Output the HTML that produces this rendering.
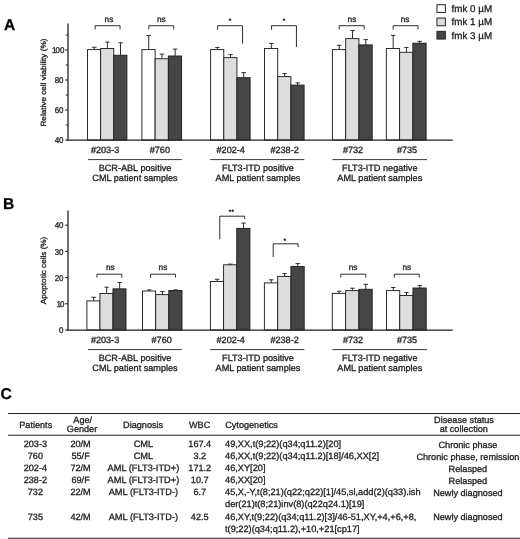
<!DOCTYPE html>
<html><head><meta charset="utf-8"><title>Figure</title>
<style>html,body{margin:0;padding:0;background:#fff}svg{display:block}svg text{font-family:"Liberation Sans",Arial,Helvetica,sans-serif;stroke:#222;stroke-width:0.3px;text-rendering:geometricPrecision}</style>
</head><body>
<svg width="520" height="539" viewBox="0 0 520 539">
<rect width="520" height="539" fill="#fff"/>
<line x1="94.27" y1="49.60" x2="94.27" y2="47.25" stroke="#222222" stroke-width="0.95" stroke-linecap="butt"/>
<line x1="92.07" y1="47.25" x2="96.47" y2="47.25" stroke="#222222" stroke-width="0.95" stroke-linecap="butt"/>
<rect x="87.50" y="49.60" width="13.13" height="90.40" fill="#ffffff" stroke="#222222" stroke-width="0.95"/>
<line x1="107.40" y1="48.50" x2="107.40" y2="42.10" stroke="#222222" stroke-width="0.95" stroke-linecap="butt"/>
<line x1="105.20" y1="42.10" x2="109.60" y2="42.10" stroke="#222222" stroke-width="0.95" stroke-linecap="butt"/>
<rect x="100.63" y="48.50" width="13.13" height="91.50" fill="#dddddd" stroke="#222222" stroke-width="0.95"/>
<line x1="120.53" y1="55.25" x2="120.53" y2="42.75" stroke="#222222" stroke-width="0.95" stroke-linecap="butt"/>
<line x1="118.33" y1="42.75" x2="122.73" y2="42.75" stroke="#222222" stroke-width="0.95" stroke-linecap="butt"/>
<rect x="113.77" y="55.25" width="13.13" height="84.75" fill="#454545" stroke="#222222" stroke-width="0.95"/>
<line x1="148.72" y1="49.60" x2="148.72" y2="35.40" stroke="#222222" stroke-width="0.95" stroke-linecap="butt"/>
<line x1="146.52" y1="35.40" x2="150.92" y2="35.40" stroke="#222222" stroke-width="0.95" stroke-linecap="butt"/>
<rect x="141.90" y="49.60" width="13.23" height="90.40" fill="#ffffff" stroke="#222222" stroke-width="0.95"/>
<line x1="161.95" y1="58.75" x2="161.95" y2="54.10" stroke="#222222" stroke-width="0.95" stroke-linecap="butt"/>
<line x1="159.75" y1="54.10" x2="164.15" y2="54.10" stroke="#222222" stroke-width="0.95" stroke-linecap="butt"/>
<rect x="155.13" y="58.75" width="13.23" height="81.25" fill="#dddddd" stroke="#222222" stroke-width="0.95"/>
<line x1="175.18" y1="56.00" x2="175.18" y2="49.10" stroke="#222222" stroke-width="0.95" stroke-linecap="butt"/>
<line x1="172.98" y1="49.10" x2="177.38" y2="49.10" stroke="#222222" stroke-width="0.95" stroke-linecap="butt"/>
<rect x="168.37" y="56.00" width="13.23" height="84.00" fill="#454545" stroke="#222222" stroke-width="0.95"/>
<line x1="217.38" y1="49.60" x2="217.38" y2="47.40" stroke="#222222" stroke-width="0.95" stroke-linecap="butt"/>
<line x1="215.18" y1="47.40" x2="219.58" y2="47.40" stroke="#222222" stroke-width="0.95" stroke-linecap="butt"/>
<rect x="210.60" y="49.60" width="13.17" height="90.40" fill="#ffffff" stroke="#222222" stroke-width="0.95"/>
<line x1="230.55" y1="57.60" x2="230.55" y2="54.60" stroke="#222222" stroke-width="0.95" stroke-linecap="butt"/>
<line x1="228.35" y1="54.60" x2="232.75" y2="54.60" stroke="#222222" stroke-width="0.95" stroke-linecap="butt"/>
<rect x="223.77" y="57.60" width="13.17" height="82.40" fill="#dddddd" stroke="#222222" stroke-width="0.95"/>
<line x1="243.72" y1="77.70" x2="243.72" y2="72.60" stroke="#222222" stroke-width="0.95" stroke-linecap="butt"/>
<line x1="241.52" y1="72.60" x2="245.92" y2="72.60" stroke="#222222" stroke-width="0.95" stroke-linecap="butt"/>
<rect x="236.93" y="77.70" width="13.17" height="62.30" fill="#454545" stroke="#222222" stroke-width="0.95"/>
<line x1="271.30" y1="48.50" x2="271.30" y2="43.40" stroke="#222222" stroke-width="0.95" stroke-linecap="butt"/>
<line x1="269.10" y1="43.40" x2="273.50" y2="43.40" stroke="#222222" stroke-width="0.95" stroke-linecap="butt"/>
<rect x="264.50" y="48.50" width="13.20" height="91.50" fill="#ffffff" stroke="#222222" stroke-width="0.95"/>
<line x1="284.50" y1="76.60" x2="284.50" y2="73.50" stroke="#222222" stroke-width="0.95" stroke-linecap="butt"/>
<line x1="282.30" y1="73.50" x2="286.70" y2="73.50" stroke="#222222" stroke-width="0.95" stroke-linecap="butt"/>
<rect x="277.70" y="76.60" width="13.20" height="63.40" fill="#dddddd" stroke="#222222" stroke-width="0.95"/>
<line x1="297.70" y1="85.10" x2="297.70" y2="82.80" stroke="#222222" stroke-width="0.95" stroke-linecap="butt"/>
<line x1="295.50" y1="82.80" x2="299.90" y2="82.80" stroke="#222222" stroke-width="0.95" stroke-linecap="butt"/>
<rect x="290.90" y="85.10" width="13.20" height="54.90" fill="#454545" stroke="#222222" stroke-width="0.95"/>
<line x1="339.23" y1="49.60" x2="339.23" y2="45.30" stroke="#222222" stroke-width="0.95" stroke-linecap="butt"/>
<line x1="337.03" y1="45.30" x2="341.43" y2="45.30" stroke="#222222" stroke-width="0.95" stroke-linecap="butt"/>
<rect x="332.40" y="49.60" width="13.27" height="90.40" fill="#ffffff" stroke="#222222" stroke-width="0.95"/>
<line x1="352.50" y1="38.60" x2="352.50" y2="30.50" stroke="#222222" stroke-width="0.95" stroke-linecap="butt"/>
<line x1="350.30" y1="30.50" x2="354.70" y2="30.50" stroke="#222222" stroke-width="0.95" stroke-linecap="butt"/>
<rect x="345.67" y="38.60" width="13.27" height="101.40" fill="#dddddd" stroke="#222222" stroke-width="0.95"/>
<line x1="365.77" y1="44.90" x2="365.77" y2="39.60" stroke="#222222" stroke-width="0.95" stroke-linecap="butt"/>
<line x1="363.57" y1="39.60" x2="367.97" y2="39.60" stroke="#222222" stroke-width="0.95" stroke-linecap="butt"/>
<rect x="358.93" y="44.90" width="13.27" height="95.10" fill="#454545" stroke="#222222" stroke-width="0.95"/>
<line x1="393.18" y1="48.50" x2="393.18" y2="35.40" stroke="#222222" stroke-width="0.95" stroke-linecap="butt"/>
<line x1="390.98" y1="35.40" x2="395.38" y2="35.40" stroke="#222222" stroke-width="0.95" stroke-linecap="butt"/>
<rect x="386.35" y="48.50" width="13.25" height="91.50" fill="#ffffff" stroke="#222222" stroke-width="0.95"/>
<line x1="406.43" y1="52.30" x2="406.43" y2="47.40" stroke="#222222" stroke-width="0.95" stroke-linecap="butt"/>
<line x1="404.23" y1="47.40" x2="408.62" y2="47.40" stroke="#222222" stroke-width="0.95" stroke-linecap="butt"/>
<rect x="399.60" y="52.30" width="13.25" height="87.70" fill="#dddddd" stroke="#222222" stroke-width="0.95"/>
<line x1="419.68" y1="43.20" x2="419.68" y2="41.30" stroke="#222222" stroke-width="0.95" stroke-linecap="butt"/>
<line x1="417.48" y1="41.30" x2="421.88" y2="41.30" stroke="#222222" stroke-width="0.95" stroke-linecap="butt"/>
<rect x="412.85" y="43.20" width="13.25" height="96.80" fill="#454545" stroke="#222222" stroke-width="0.95"/>
<line x1="68.00" y1="23.50" x2="68.00" y2="140.65" stroke="#222222" stroke-width="1.3" stroke-linecap="butt"/>
<line x1="67.35" y1="140.20" x2="452.70" y2="140.20" stroke="#222222" stroke-width="1.2" stroke-linecap="butt"/>
<line x1="65.10" y1="140.00" x2="68.00" y2="140.00" stroke="#222222" stroke-width="1.0" stroke-linecap="butt"/>
<text x="0" y="0" font-size="8.4" text-anchor="end" fill="#222222" transform="translate(63.5 143.15) scale(0.95 1)">40</text>
<line x1="65.10" y1="110.00" x2="68.00" y2="110.00" stroke="#222222" stroke-width="1.0" stroke-linecap="butt"/>
<text x="0" y="0" font-size="8.4" text-anchor="end" fill="#222222" transform="translate(63.5 113.15) scale(0.95 1)">60</text>
<line x1="65.10" y1="80.00" x2="68.00" y2="80.00" stroke="#222222" stroke-width="1.0" stroke-linecap="butt"/>
<text x="0" y="0" font-size="8.4" text-anchor="end" fill="#222222" transform="translate(63.5 83.15) scale(0.95 1)">80</text>
<line x1="65.10" y1="50.00" x2="68.00" y2="50.00" stroke="#222222" stroke-width="1.0" stroke-linecap="butt"/>
<text x="0" y="0" font-size="8.4" text-anchor="end" fill="#222222" transform="translate(63.5 53.15) scale(0.95 1)"><tspan dx="1.0">1</tspan><tspan dx="-1.0">0</tspan>0</text>
<line x1="65.90" y1="125.00" x2="68.00" y2="125.00" stroke="#222222" stroke-width="1.0" stroke-linecap="butt"/>
<line x1="65.90" y1="95.00" x2="68.00" y2="95.00" stroke="#222222" stroke-width="1.0" stroke-linecap="butt"/>
<line x1="65.90" y1="65.00" x2="68.00" y2="65.00" stroke="#222222" stroke-width="1.0" stroke-linecap="butt"/>
<line x1="65.90" y1="35.00" x2="68.00" y2="35.00" stroke="#222222" stroke-width="1.0" stroke-linecap="butt"/>
<text x="0" y="0" font-size="7.5" text-anchor="middle" fill="#222222" transform="translate(45.7 82.6) rotate(-90) scale(1.087 1)">Relative cell viability (%)</text>
<polyline points="95.15,29.40 95.15,25.70 120.05,25.70 120.05,29.40" fill="none" stroke="#222222" stroke-width="0.95" stroke-linejoin="round"/>
<text x="108.95" y="21.60" font-size="8.3" text-anchor="middle" font-weight="normal" fill="#222222" >ns</text>
<polyline points="148.80,29.40 148.80,25.70 173.70,25.70 173.70,29.40" fill="none" stroke="#222222" stroke-width="0.95" stroke-linejoin="round"/>
<text x="161.30" y="21.60" font-size="8.3" text-anchor="middle" font-weight="normal" fill="#222222" >ns</text>
<polyline points="217.65,29.80 217.65,25.70 242.55,25.70 242.55,43.60" fill="none" stroke="#222222" stroke-width="0.95" stroke-linejoin="round"/>
<text x="230.00" y="22.80" font-size="6.6" text-anchor="middle" font-weight="normal" fill="#222222" >*</text>
<polyline points="271.55,29.80 271.55,25.70 296.45,25.70 296.45,47.00" fill="none" stroke="#222222" stroke-width="0.95" stroke-linejoin="round"/>
<text x="284.00" y="22.80" font-size="6.6" text-anchor="middle" font-weight="normal" fill="#222222" >*</text>
<polyline points="339.25,29.40 339.25,25.70 364.15,25.70 364.15,29.40" fill="none" stroke="#222222" stroke-width="0.95" stroke-linejoin="round"/>
<text x="351.95" y="21.60" font-size="8.3" text-anchor="middle" font-weight="normal" fill="#222222" >ns</text>
<polyline points="393.15,29.40 393.15,25.70 418.05,25.70 418.05,29.40" fill="none" stroke="#222222" stroke-width="0.95" stroke-linejoin="round"/>
<text x="405.05" y="21.60" font-size="8.3" text-anchor="middle" font-weight="normal" fill="#222222" >ns</text>
<line x1="93.62" y1="300.90" x2="93.62" y2="297.30" stroke="#222222" stroke-width="0.95" stroke-linecap="butt"/>
<line x1="91.42" y1="297.30" x2="95.82" y2="297.30" stroke="#222222" stroke-width="0.95" stroke-linecap="butt"/>
<rect x="86.90" y="300.90" width="13.03" height="29.10" fill="#ffffff" stroke="#222222" stroke-width="0.95"/>
<line x1="106.65" y1="293.50" x2="106.65" y2="287.20" stroke="#222222" stroke-width="0.95" stroke-linecap="butt"/>
<line x1="104.45" y1="287.20" x2="108.85" y2="287.20" stroke="#222222" stroke-width="0.95" stroke-linecap="butt"/>
<rect x="99.93" y="293.50" width="13.03" height="36.50" fill="#dddddd" stroke="#222222" stroke-width="0.95"/>
<line x1="119.68" y1="288.85" x2="119.68" y2="282.50" stroke="#222222" stroke-width="0.95" stroke-linecap="butt"/>
<line x1="117.48" y1="282.50" x2="121.88" y2="282.50" stroke="#222222" stroke-width="0.95" stroke-linecap="butt"/>
<rect x="112.97" y="288.85" width="13.03" height="41.15" fill="#454545" stroke="#222222" stroke-width="0.95"/>
<line x1="149.28" y1="291.00" x2="149.28" y2="289.90" stroke="#222222" stroke-width="0.95" stroke-linecap="butt"/>
<line x1="147.08" y1="289.90" x2="151.48" y2="289.90" stroke="#222222" stroke-width="0.95" stroke-linecap="butt"/>
<rect x="142.50" y="291.00" width="13.17" height="39.00" fill="#ffffff" stroke="#222222" stroke-width="0.95"/>
<line x1="162.45" y1="294.60" x2="162.45" y2="291.60" stroke="#222222" stroke-width="0.95" stroke-linecap="butt"/>
<line x1="160.25" y1="291.60" x2="164.65" y2="291.60" stroke="#222222" stroke-width="0.95" stroke-linecap="butt"/>
<rect x="155.67" y="294.60" width="13.17" height="35.40" fill="#dddddd" stroke="#222222" stroke-width="0.95"/>
<line x1="175.62" y1="290.50" x2="175.62" y2="289.90" stroke="#222222" stroke-width="0.95" stroke-linecap="butt"/>
<line x1="173.42" y1="289.90" x2="177.82" y2="289.90" stroke="#222222" stroke-width="0.95" stroke-linecap="butt"/>
<rect x="168.83" y="290.50" width="13.17" height="39.50" fill="#454545" stroke="#222222" stroke-width="0.95"/>
<line x1="217.18" y1="281.50" x2="217.18" y2="279.30" stroke="#222222" stroke-width="0.95" stroke-linecap="butt"/>
<line x1="214.98" y1="279.30" x2="219.38" y2="279.30" stroke="#222222" stroke-width="0.95" stroke-linecap="butt"/>
<rect x="210.40" y="281.50" width="13.17" height="48.50" fill="#ffffff" stroke="#222222" stroke-width="0.95"/>
<line x1="230.35" y1="264.80" x2="230.35" y2="264.10" stroke="#222222" stroke-width="0.95" stroke-linecap="butt"/>
<line x1="228.15" y1="264.10" x2="232.55" y2="264.10" stroke="#222222" stroke-width="0.95" stroke-linecap="butt"/>
<rect x="223.57" y="264.80" width="13.17" height="65.20" fill="#dddddd" stroke="#222222" stroke-width="0.95"/>
<line x1="243.52" y1="228.40" x2="243.52" y2="223.10" stroke="#222222" stroke-width="0.95" stroke-linecap="butt"/>
<line x1="241.32" y1="223.10" x2="245.72" y2="223.10" stroke="#222222" stroke-width="0.95" stroke-linecap="butt"/>
<rect x="236.73" y="228.40" width="13.17" height="101.60" fill="#454545" stroke="#222222" stroke-width="0.95"/>
<line x1="271.23" y1="282.90" x2="271.23" y2="279.80" stroke="#222222" stroke-width="0.95" stroke-linecap="butt"/>
<line x1="269.03" y1="279.80" x2="273.43" y2="279.80" stroke="#222222" stroke-width="0.95" stroke-linecap="butt"/>
<rect x="264.40" y="282.90" width="13.27" height="47.10" fill="#ffffff" stroke="#222222" stroke-width="0.95"/>
<line x1="284.50" y1="276.40" x2="284.50" y2="273.50" stroke="#222222" stroke-width="0.95" stroke-linecap="butt"/>
<line x1="282.30" y1="273.50" x2="286.70" y2="273.50" stroke="#222222" stroke-width="0.95" stroke-linecap="butt"/>
<rect x="277.67" y="276.40" width="13.27" height="53.60" fill="#dddddd" stroke="#222222" stroke-width="0.95"/>
<line x1="297.77" y1="266.50" x2="297.77" y2="263.60" stroke="#222222" stroke-width="0.95" stroke-linecap="butt"/>
<line x1="295.57" y1="263.60" x2="299.97" y2="263.60" stroke="#222222" stroke-width="0.95" stroke-linecap="butt"/>
<rect x="290.93" y="266.50" width="13.27" height="63.50" fill="#454545" stroke="#222222" stroke-width="0.95"/>
<line x1="339.15" y1="293.40" x2="339.15" y2="291.30" stroke="#222222" stroke-width="0.95" stroke-linecap="butt"/>
<line x1="336.95" y1="291.30" x2="341.35" y2="291.30" stroke="#222222" stroke-width="0.95" stroke-linecap="butt"/>
<rect x="332.30" y="293.40" width="13.30" height="36.60" fill="#ffffff" stroke="#222222" stroke-width="0.95"/>
<line x1="352.45" y1="290.60" x2="352.45" y2="288.20" stroke="#222222" stroke-width="0.95" stroke-linecap="butt"/>
<line x1="350.25" y1="288.20" x2="354.65" y2="288.20" stroke="#222222" stroke-width="0.95" stroke-linecap="butt"/>
<rect x="345.60" y="290.60" width="13.30" height="39.40" fill="#dddddd" stroke="#222222" stroke-width="0.95"/>
<line x1="365.75" y1="289.30" x2="365.75" y2="284.30" stroke="#222222" stroke-width="0.95" stroke-linecap="butt"/>
<line x1="363.55" y1="284.30" x2="367.95" y2="284.30" stroke="#222222" stroke-width="0.95" stroke-linecap="butt"/>
<rect x="358.90" y="289.30" width="13.30" height="40.70" fill="#454545" stroke="#222222" stroke-width="0.95"/>
<line x1="393.32" y1="290.60" x2="393.32" y2="287.50" stroke="#222222" stroke-width="0.95" stroke-linecap="butt"/>
<line x1="391.12" y1="287.50" x2="395.52" y2="287.50" stroke="#222222" stroke-width="0.95" stroke-linecap="butt"/>
<rect x="386.50" y="290.60" width="13.23" height="39.40" fill="#ffffff" stroke="#222222" stroke-width="0.95"/>
<line x1="406.55" y1="295.50" x2="406.55" y2="292.60" stroke="#222222" stroke-width="0.95" stroke-linecap="butt"/>
<line x1="404.35" y1="292.60" x2="408.75" y2="292.60" stroke="#222222" stroke-width="0.95" stroke-linecap="butt"/>
<rect x="399.73" y="295.50" width="13.23" height="34.50" fill="#dddddd" stroke="#222222" stroke-width="0.95"/>
<line x1="419.78" y1="288.00" x2="419.78" y2="285.60" stroke="#222222" stroke-width="0.95" stroke-linecap="butt"/>
<line x1="417.58" y1="285.60" x2="421.98" y2="285.60" stroke="#222222" stroke-width="0.95" stroke-linecap="butt"/>
<rect x="412.97" y="288.00" width="13.23" height="42.00" fill="#454545" stroke="#222222" stroke-width="0.95"/>
<line x1="68.00" y1="210.60" x2="68.00" y2="330.65" stroke="#222222" stroke-width="1.3" stroke-linecap="butt"/>
<line x1="67.35" y1="330.20" x2="452.70" y2="330.20" stroke="#222222" stroke-width="1.2" stroke-linecap="butt"/>
<line x1="65.10" y1="330.00" x2="68.00" y2="330.00" stroke="#222222" stroke-width="1.0" stroke-linecap="butt"/>
<text x="0" y="0" font-size="8.4" text-anchor="end" fill="#222222" transform="translate(63.5 333.15) scale(0.95 1)">0</text>
<line x1="65.10" y1="303.80" x2="68.00" y2="303.80" stroke="#222222" stroke-width="1.0" stroke-linecap="butt"/>
<text x="0" y="0" font-size="8.4" text-anchor="end" fill="#222222" transform="translate(63.5 306.95) scale(0.95 1)"><tspan dx="1.0">1</tspan><tspan dx="-1.0">0</tspan></text>
<line x1="65.10" y1="277.60" x2="68.00" y2="277.60" stroke="#222222" stroke-width="1.0" stroke-linecap="butt"/>
<text x="0" y="0" font-size="8.4" text-anchor="end" fill="#222222" transform="translate(63.5 280.75) scale(0.95 1)">20</text>
<line x1="65.10" y1="251.40" x2="68.00" y2="251.40" stroke="#222222" stroke-width="1.0" stroke-linecap="butt"/>
<text x="0" y="0" font-size="8.4" text-anchor="end" fill="#222222" transform="translate(63.5 254.55) scale(0.95 1)">30</text>
<line x1="65.10" y1="225.20" x2="68.00" y2="225.20" stroke="#222222" stroke-width="1.0" stroke-linecap="butt"/>
<text x="0" y="0" font-size="8.4" text-anchor="end" fill="#222222" transform="translate(63.5 228.35) scale(0.95 1)">40</text>
<text x="0" y="0" font-size="7.5" text-anchor="middle" fill="#222222" transform="translate(45.7 270.45) rotate(-90) scale(1.087 1)">Apoptotic cells (%)</text>
<polyline points="96.95,277.60 96.95,274.20 121.85,274.20 121.85,277.60" fill="none" stroke="#222222" stroke-width="0.95" stroke-linejoin="round"/>
<text x="110.30" y="269.80" font-size="8.3" text-anchor="middle" font-weight="normal" fill="#222222" >ns</text>
<polyline points="150.55,277.60 150.55,274.20 175.45,274.20 175.45,277.60" fill="none" stroke="#222222" stroke-width="0.95" stroke-linejoin="round"/>
<text x="162.95" y="269.80" font-size="8.3" text-anchor="middle" font-weight="normal" fill="#222222" >ns</text>
<polyline points="219.75,239.40 219.75,216.20 244.65,216.20 244.65,219.30" fill="none" stroke="#222222" stroke-width="0.95" stroke-linejoin="round"/>
<text x="231.40" y="214.20" font-size="6.6" text-anchor="middle" font-weight="normal" fill="#222222" >**</text>
<polyline points="273.20,257.00 273.20,243.80 298.10,243.80 298.10,247.20" fill="none" stroke="#222222" stroke-width="0.95" stroke-linejoin="round"/>
<text x="284.90" y="242.60" font-size="6.6" text-anchor="middle" font-weight="normal" fill="#222222" >*</text>
<polyline points="340.85,277.60 340.85,274.20 365.75,274.20 365.75,277.60" fill="none" stroke="#222222" stroke-width="0.95" stroke-linejoin="round"/>
<text x="353.05" y="269.80" font-size="8.3" text-anchor="middle" font-weight="normal" fill="#222222" >ns</text>
<polyline points="394.35,277.60 394.35,274.20 419.25,274.20 419.25,277.60" fill="none" stroke="#222222" stroke-width="0.95" stroke-linejoin="round"/>
<text x="406.85" y="269.80" font-size="8.3" text-anchor="middle" font-weight="normal" fill="#222222" >ns</text>
<text x="105.05" y="153.30" font-size="9.1" text-anchor="middle" font-weight="normal" fill="#222222" >#203-3</text>
<text x="159.85" y="153.30" font-size="9.1" text-anchor="middle" font-weight="normal" fill="#222222" >#760</text>
<text x="230.70" y="153.30" font-size="9.1" text-anchor="middle" font-weight="normal" fill="#222222" >#202-4</text>
<text x="284.60" y="153.30" font-size="9.1" text-anchor="middle" font-weight="normal" fill="#222222" >#238-2</text>
<text x="353.00" y="153.30" font-size="9.1" text-anchor="middle" font-weight="normal" fill="#222222" >#732</text>
<text x="407.00" y="153.30" font-size="9.1" text-anchor="middle" font-weight="normal" fill="#222222" >#735</text>
<line x1="88.00" y1="159.60" x2="181.80" y2="159.60" stroke="#222222" stroke-width="0.9" stroke-linecap="butt"/>
<text x="135.00" y="170.50" font-size="9.15" text-anchor="middle" font-weight="normal" fill="#222222" >BCR-ABL positive</text>
<text x="135.00" y="181.30" font-size="9.15" text-anchor="middle" font-weight="normal" fill="#222222" >CML patient samples</text>
<line x1="210.15" y1="159.60" x2="304.30" y2="159.60" stroke="#222222" stroke-width="0.9" stroke-linecap="butt"/>
<text x="258.00" y="170.50" font-size="9.15" text-anchor="middle" font-weight="normal" fill="#222222" >FLT3-ITD positive</text>
<text x="258.00" y="181.30" font-size="9.15" text-anchor="middle" font-weight="normal" fill="#222222" >AML patient samples</text>
<line x1="332.40" y1="159.60" x2="427.00" y2="159.60" stroke="#222222" stroke-width="0.9" stroke-linecap="butt"/>
<text x="379.80" y="170.50" font-size="9.15" text-anchor="middle" font-weight="normal" fill="#222222" >FLT3-ITD negative</text>
<text x="379.80" y="181.30" font-size="9.15" text-anchor="middle" font-weight="normal" fill="#222222" >AML patient samples</text>
<text x="105.05" y="343.30" font-size="9.1" text-anchor="middle" font-weight="normal" fill="#222222" >#203-3</text>
<text x="161.65" y="343.30" font-size="9.1" text-anchor="middle" font-weight="normal" fill="#222222" >#760</text>
<text x="230.70" y="343.30" font-size="9.1" text-anchor="middle" font-weight="normal" fill="#222222" >#202-4</text>
<text x="284.60" y="343.30" font-size="9.1" text-anchor="middle" font-weight="normal" fill="#222222" >#238-2</text>
<text x="353.00" y="343.30" font-size="9.1" text-anchor="middle" font-weight="normal" fill="#222222" >#732</text>
<text x="407.00" y="343.30" font-size="9.1" text-anchor="middle" font-weight="normal" fill="#222222" >#735</text>
<line x1="88.00" y1="349.60" x2="181.80" y2="349.60" stroke="#222222" stroke-width="0.9" stroke-linecap="butt"/>
<text x="135.00" y="360.50" font-size="9.15" text-anchor="middle" font-weight="normal" fill="#222222" >BCR-ABL positive</text>
<text x="135.00" y="371.30" font-size="9.15" text-anchor="middle" font-weight="normal" fill="#222222" >CML patient samples</text>
<line x1="210.15" y1="349.60" x2="304.30" y2="349.60" stroke="#222222" stroke-width="0.9" stroke-linecap="butt"/>
<text x="258.00" y="360.50" font-size="9.15" text-anchor="middle" font-weight="normal" fill="#222222" >FLT3-ITD positive</text>
<text x="258.00" y="371.30" font-size="9.15" text-anchor="middle" font-weight="normal" fill="#222222" >AML patient samples</text>
<line x1="332.40" y1="349.60" x2="427.00" y2="349.60" stroke="#222222" stroke-width="0.9" stroke-linecap="butt"/>
<text x="379.80" y="360.50" font-size="9.15" text-anchor="middle" font-weight="normal" fill="#222222" >FLT3-ITD negative</text>
<text x="379.80" y="371.30" font-size="9.15" text-anchor="middle" font-weight="normal" fill="#222222" >AML patient samples</text>
<rect x="436.95" y="4.75" width="8.4" height="7.7" fill="#ffffff" stroke="#222222" stroke-width="1.0"/>
<text x="451.60" y="11.60" font-size="9.8" text-anchor="start" font-weight="normal" fill="#222222" >fmk 0 µM</text>
<rect x="436.95" y="18.05" width="8.4" height="7.7" fill="#dddddd" stroke="#222222" stroke-width="1.0"/>
<text x="451.60" y="25.05" font-size="9.8" text-anchor="start" font-weight="normal" fill="#222222" >fmk 1 µM</text>
<rect x="436.95" y="31.35" width="8.4" height="7.7" fill="#454545" stroke="#222222" stroke-width="1.0"/>
<text x="451.60" y="38.50" font-size="9.8" text-anchor="start" font-weight="normal" fill="#222222" >fmk 3 µM</text>
<text x="3.90" y="29.85" font-size="15.6" text-anchor="start" font-weight="bold" fill="#000" text-rendering="geometricPrecision">A</text>
<text x="2.90" y="208.85" font-size="15.6" text-anchor="start" font-weight="bold" fill="#000" text-rendering="geometricPrecision">B</text>
<text x="0.50" y="399.00" font-size="15.6" text-anchor="start" font-weight="bold" fill="#000" text-rendering="geometricPrecision">C</text>
<line x1="8.10" y1="413.50" x2="520.00" y2="413.50" stroke="#222222" stroke-width="1.1" stroke-linecap="butt"/>
<line x1="8.10" y1="435.30" x2="520.00" y2="435.30" stroke="#222222" stroke-width="1.1" stroke-linecap="butt"/>
<line x1="8.10" y1="538.30" x2="520.00" y2="538.30" stroke="#222222" stroke-width="1.1" stroke-linecap="butt"/>
<text x="35.75" y="427.50" font-size="9.15" text-anchor="middle" font-weight="normal" fill="#222222" >Patients</text>
<text x="82.70" y="423.00" font-size="9.15" text-anchor="middle" font-weight="normal" fill="#222222" >Age/</text>
<text x="82.00" y="431.80" font-size="9.15" text-anchor="middle" font-weight="normal" fill="#222222" >Gender</text>
<text x="143.10" y="427.50" font-size="9.15" text-anchor="middle" font-weight="normal" fill="#222222" >Diagnosis</text>
<text x="199.60" y="427.50" font-size="9.15" text-anchor="middle" font-weight="normal" fill="#222222" >WBC</text>
<text x="225.20" y="427.50" font-size="9.15" text-anchor="start" font-weight="normal" fill="#222222" >Cytogenetics</text>
<text x="464.00" y="423.00" font-size="9.15" text-anchor="middle" font-weight="normal" fill="#222222" >Disease status</text>
<text x="463.75" y="432.00" font-size="9.15" text-anchor="middle" font-weight="normal" fill="#222222" >at collection</text>
<text x="35.40" y="447.05" font-size="9.15" text-anchor="middle" font-weight="normal" fill="#222222" >203-3</text>
<text x="80.60" y="447.05" font-size="9.15" text-anchor="middle" font-weight="normal" fill="#222222" >20/M</text>
<text x="143.40" y="447.05" font-size="9.25" text-anchor="middle" font-weight="normal" fill="#222222" >CML</text>
<text x="199.75" y="447.05" font-size="9.15" text-anchor="middle" font-weight="normal" fill="#222222" >167.4</text>
<text x="225.00" y="447.05" font-size="9.23" text-anchor="start" font-weight="normal" fill="#222222" >49,XX,t(9;22)(q34;q11.2)[20]</text>
<text x="467.90" y="447.95" font-size="9.15" text-anchor="middle" font-weight="normal" fill="#222222" >Chronic phase</text>
<text x="35.40" y="459.13" font-size="9.15" text-anchor="middle" font-weight="normal" fill="#222222" >760</text>
<text x="80.60" y="459.13" font-size="9.15" text-anchor="middle" font-weight="normal" fill="#222222" >55/F</text>
<text x="143.40" y="459.13" font-size="9.25" text-anchor="middle" font-weight="normal" fill="#222222" >CML</text>
<text x="199.75" y="459.13" font-size="9.15" text-anchor="middle" font-weight="normal" fill="#222222" >3.2</text>
<text x="225.00" y="459.13" font-size="9.23" text-anchor="start" font-weight="normal" fill="#222222" >46,XX,t(9;22)(q34;q11.2)[18]/46,XX[2]</text>
<text x="467.90" y="460.03" font-size="9.15" text-anchor="middle" font-weight="normal" fill="#222222" >Chronic phase, remission</text>
<text x="35.40" y="471.21" font-size="9.15" text-anchor="middle" font-weight="normal" fill="#222222" >202-4</text>
<text x="80.60" y="471.21" font-size="9.15" text-anchor="middle" font-weight="normal" fill="#222222" >72/M</text>
<text x="143.40" y="471.21" font-size="9.25" text-anchor="middle" font-weight="normal" fill="#222222" >AML (FLT3-ITD+)</text>
<text x="199.75" y="471.21" font-size="9.15" text-anchor="middle" font-weight="normal" fill="#222222" >171.2</text>
<text x="225.00" y="471.21" font-size="9.23" text-anchor="start" font-weight="normal" fill="#222222" >46,XY[20]</text>
<text x="467.90" y="472.11" font-size="9.15" text-anchor="middle" font-weight="normal" fill="#222222" >Relasped</text>
<text x="35.40" y="483.29" font-size="9.15" text-anchor="middle" font-weight="normal" fill="#222222" >238-2</text>
<text x="80.60" y="483.29" font-size="9.15" text-anchor="middle" font-weight="normal" fill="#222222" >69/F</text>
<text x="143.40" y="483.29" font-size="9.25" text-anchor="middle" font-weight="normal" fill="#222222" >AML (FLT3-ITD+)</text>
<text x="199.75" y="483.29" font-size="9.15" text-anchor="middle" font-weight="normal" fill="#222222" >10.7</text>
<text x="225.00" y="483.29" font-size="9.23" text-anchor="start" font-weight="normal" fill="#222222" >46,XX[20]</text>
<text x="467.90" y="484.19" font-size="9.15" text-anchor="middle" font-weight="normal" fill="#222222" >Relasped</text>
<text x="35.40" y="495.37" font-size="9.15" text-anchor="middle" font-weight="normal" fill="#222222" >732</text>
<text x="80.60" y="495.37" font-size="9.15" text-anchor="middle" font-weight="normal" fill="#222222" >22/M</text>
<text x="143.40" y="495.37" font-size="9.25" text-anchor="middle" font-weight="normal" fill="#222222" >AML (FLT3-ITD-)</text>
<text x="199.75" y="495.37" font-size="9.15" text-anchor="middle" font-weight="normal" fill="#222222" >6.7</text>
<text x="225.00" y="495.37" font-size="9.23" text-anchor="start" font-weight="normal" fill="#222222" >45,X,-Y,t(8;21)(q22;q22)[1]/45,sl,add(2)(q33).ish</text>
<text x="225.00" y="507.45" font-size="9.23" text-anchor="start" font-weight="normal" fill="#222222" >der(21)t(8;21)inv(8)(q22q24.1)[19]</text>
<text x="467.90" y="496.27" font-size="9.15" text-anchor="middle" font-weight="normal" fill="#222222" >Newly diagnosed</text>
<text x="35.40" y="519.53" font-size="9.15" text-anchor="middle" font-weight="normal" fill="#222222" >735</text>
<text x="80.60" y="519.53" font-size="9.15" text-anchor="middle" font-weight="normal" fill="#222222" >42/M</text>
<text x="143.40" y="519.53" font-size="9.25" text-anchor="middle" font-weight="normal" fill="#222222" >AML (FLT3-ITD-)</text>
<text x="199.75" y="519.53" font-size="9.15" text-anchor="middle" font-weight="normal" fill="#222222" >42.5</text>
<text x="225.00" y="519.53" font-size="9.23" text-anchor="start" font-weight="normal" fill="#222222" >46,XY,t(9;22)(q34;q11.2)[3]/46-51,XY,+4,+6,+8,</text>
<text x="225.00" y="531.61" font-size="9.23" text-anchor="start" font-weight="normal" fill="#222222" >t(9;22)(q34;q11.2),+10,+21[cp17]</text>
<text x="467.90" y="520.43" font-size="9.15" text-anchor="middle" font-weight="normal" fill="#222222" >Newly diagnosed</text>
</svg>
</body></html>
